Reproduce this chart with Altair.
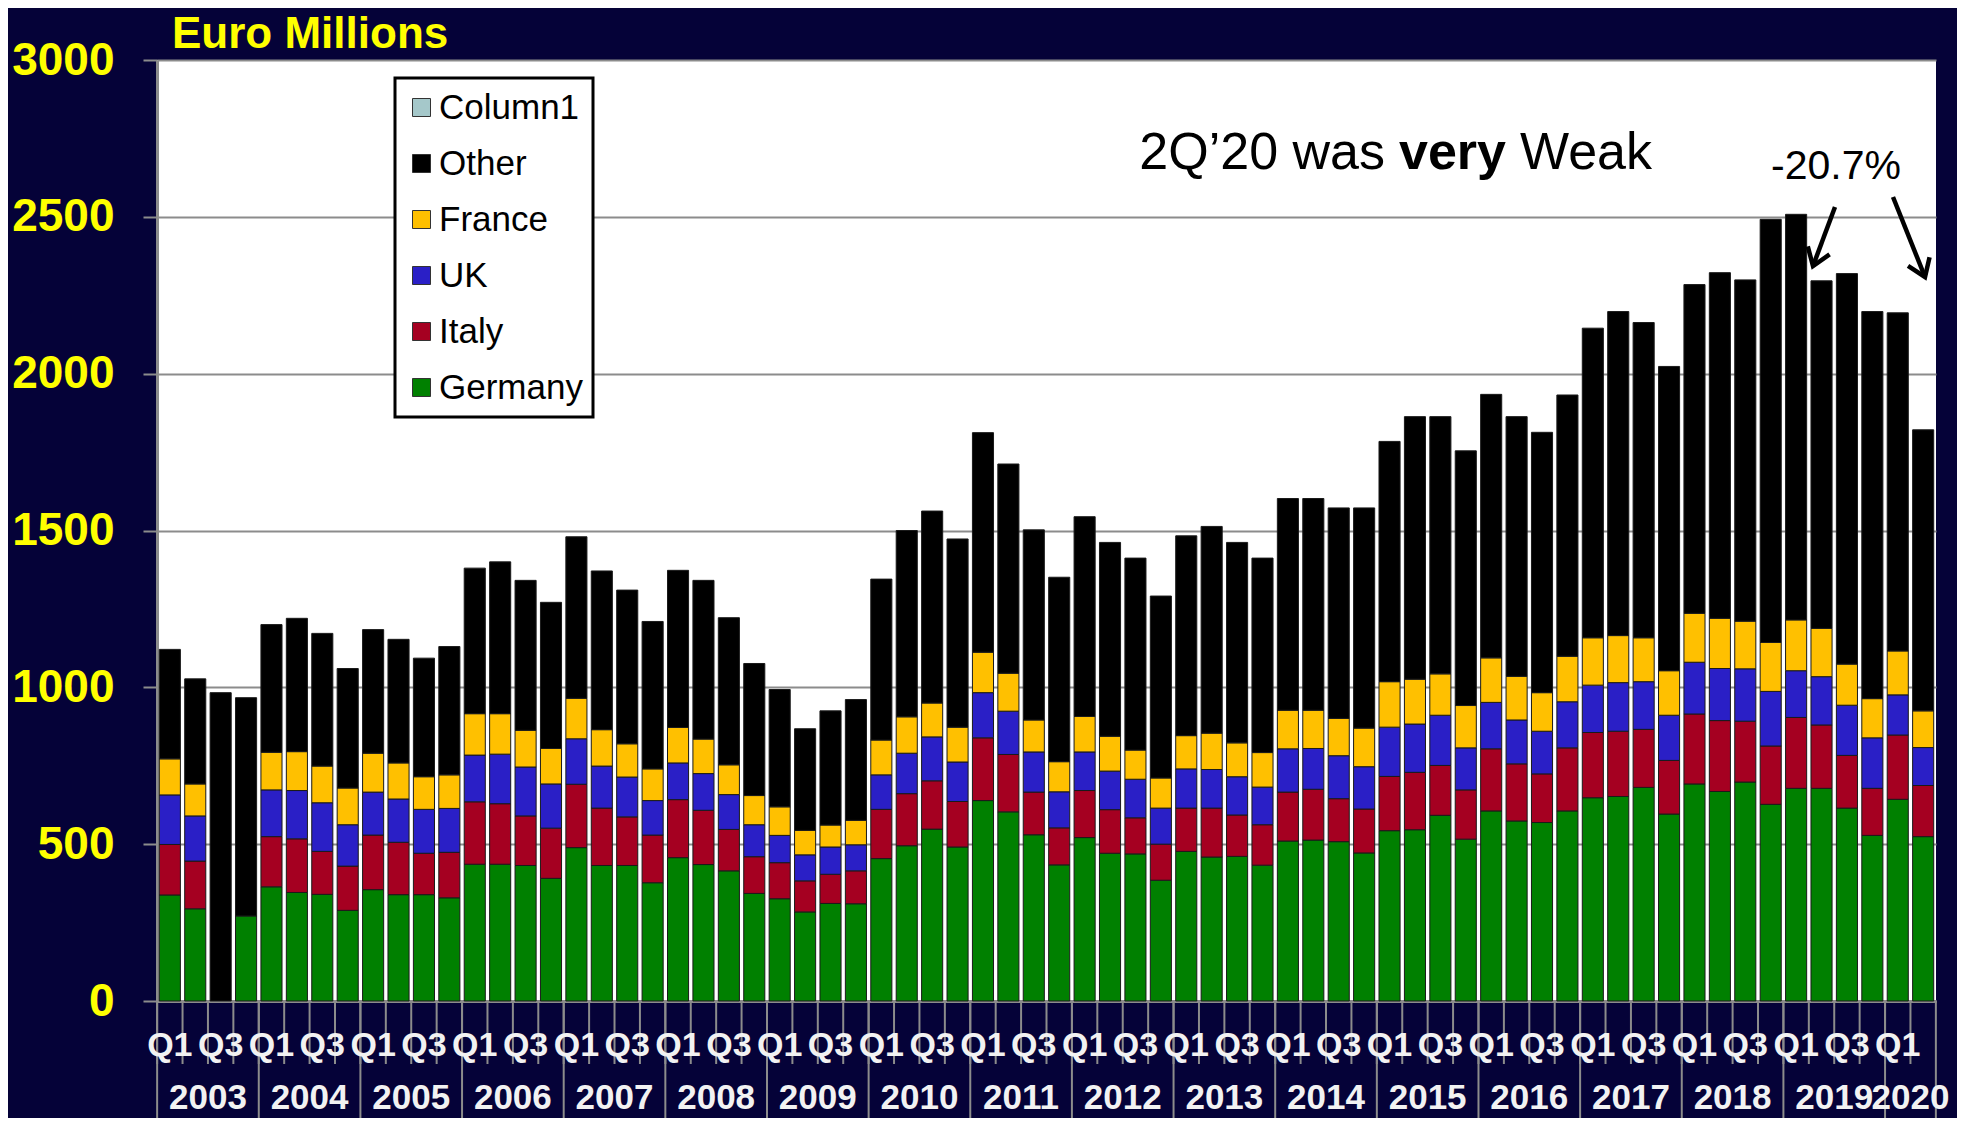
import altair as alt
import pandas as pd

# ---------------- data ----------------
years = [str(y) for y in range(2003, 2021)]
quarters = ["Q1", "Q2", "Q3", "Q4"]
periods = [f"{y} {q}" for y in years for q in quarters][:70]

germany = [338, 294, 0, 271, 364, 346, 340, 289, 355, 339, 339, 329,
           436, 436, 432, 391, 489, 432, 432, 377, 457, 435, 415, 343,
           326, 284, 311, 310, 454, 495, 548, 491, 639, 603, 530, 434,
           521, 471, 469, 385, 477, 459, 461, 433, 510, 513, 508, 472,
           543, 546, 592, 516, 606, 574, 569, 606, 648, 652, 681, 596,
           692, 668, 698, 627, 678, 678, 615, 528, 643, 524]
italy = [161, 152, 0, 0, 160, 171, 137, 141, 174, 167, 132, 145,
         199, 193, 158, 160, 202, 183, 155, 152, 185, 173, 132, 117,
         115, 99, 93, 105, 157, 166, 154, 145, 200, 183, 136, 118,
         150, 139, 115, 115, 138, 156, 132, 129, 156, 162, 137, 140,
         173, 183, 159, 157, 198, 182, 155, 201, 208, 208, 185, 171,
         223, 226, 194, 186, 226, 202, 168, 150, 205, 163]
uk = [158, 144, 0, 0, 149, 154, 155, 132, 137, 138, 140, 140,
      149, 158, 156, 141, 145, 134, 127, 110, 117, 117, 111, 102,
      87, 83, 87, 83, 110, 129, 140, 126, 144, 138, 128, 115,
      123, 123, 123, 115, 125, 123, 122, 120, 138, 130, 137, 135,
      157, 154, 160, 134, 148, 140, 136, 147, 151, 155, 152, 144,
      165, 166, 167, 174, 149, 154, 160, 161, 128, 121]
france = [115, 102, 0, 0, 120, 124, 117, 117, 124, 115, 104, 107,
          132, 129, 117, 113, 129, 116, 106, 101, 113, 110, 95, 93,
          91, 78, 70, 78, 111, 116, 108, 111, 129, 121, 102, 96,
          113, 111, 93, 96, 106, 116, 108, 110, 123, 122, 119, 123,
          145, 143, 132, 135, 142, 139, 123, 145, 151, 150, 140, 142,
          156, 160, 152, 156, 162, 154, 131, 125, 140, 117]
other = [349, 335, 983, 696, 407, 425, 423, 381, 394, 394, 378, 409,
         464, 484, 478, 466, 515, 506, 490, 470, 501, 506, 469, 421,
         374, 324, 364, 385, 513, 594, 612, 600, 700, 667, 606, 588,
         637, 618, 612, 580, 637, 659, 639, 620, 675, 675, 671, 702,
         766, 837, 820, 812, 840, 828, 830, 833, 987, 1033, 1005, 970,
         1048, 1102, 1088, 1349, 1293, 1108, 1245, 1234, 1078, 896]

stack_names = ["Germany", "Italy", "UK", "France", "Other"]
legend_order = ["Column1", "Other", "France", "UK", "Italy", "Germany"]
legend_colors = ["#A5C8CA", "#000000", "#FFC000", "#2A1FC6", "#A50021", "#008000"]
y_ticks = [0, 500, 1000, 1500, 2000, 2500, 3000]

rows = []
for i, p in enumerate(periods):
    for k, (name, vals) in enumerate(zip(stack_names, [germany, italy, uk, france, other])):
        rows.append({"period": p, "country": name, "value": vals[i], "order": k})
df = pd.DataFrame(rows)

qlab_df = pd.DataFrame([{"period": p, "label": p.split()[1]} for p in periods
                        if p.split()[1] in ("Q1", "Q3")])
year_df = pd.DataFrame([{"year": y, "anchor": (f"{y} Q3" if f"{y} Q3" in periods else f"{y} Q2")}
                        for y in years])
tick_df = pd.DataFrame({"period": periods})
yearline_df = pd.DataFrame({"period": [p for p in periods if p.endswith("Q1")]})
end_df = pd.DataFrame({"period": [periods[-1]]})

# ---------------- layout ----------------
W, H = 1779, 941
BG = "#050238"
GRID = "#8c8c8c"
SANS = "Liberation Sans, Arial, sans-serif"
HALF_GAP = 2.16

xscale = alt.Scale(domain=periods, paddingInner=0.17, paddingOuter=0.09)
xaxis = alt.Axis(labels=False, ticks=False, title=None, domainColor=GRID, domainWidth=3, grid=False)

bars = alt.Chart(df).transform_filter("datum.value > 0").mark_bar(
    stroke="#1a1a1a", strokeWidth=1
).encode(
    x=alt.X("period:N", scale=xscale, axis=xaxis, sort=periods),
    y=alt.Y("value:Q", stack="zero", scale=alt.Scale(domain=[0, 3000], nice=False),
            axis=alt.Axis(values=y_ticks, format="d", title=None, labelColor="#FFFF00",
                          labelFont=SANS, labelFontSize=46, labelFontWeight="bold",
                          labelPadding=29, tickSize=14, tickColor=GRID, tickWidth=2,
                          gridColor=GRID, gridWidth=2, domainColor=GRID, domainWidth=3)),
    color=alt.Color("country:N", scale=alt.Scale(domain=legend_order, range=legend_colors),
                    legend=alt.Legend(title=None, orient="none", legendX=247, legendY=30,
                                      padding=0, symbolType="square", symbolSize=324,
                                      symbolStrokeColor="#333333", symbolStrokeWidth=1,
                                      symbolOpacity=1, labelFont=SANS, labelFontSize=35,
                                      labelColor="black", rowPadding=20, labelOffset=0)),
    order=alt.Order("order:Q", sort="ascending"),
)

legend_box = alt.Chart(pd.DataFrame({"a": [1]})).mark_rect(
    fill="white", stroke="black", strokeWidth=3
).encode(x=alt.value(238), x2=alt.value(436), y=alt.value(18), y2=alt.value(357))

short_ticks = alt.Chart(tick_df).mark_rule(color=GRID, strokeWidth=2, xOffset=-HALF_GAP).encode(
    x=alt.X("period:N", bandPosition=0, scale=xscale, axis=xaxis),
    y=alt.value(H), y2=alt.value(H + 63))
year_lines = alt.Chart(yearline_df).mark_rule(color=GRID, strokeWidth=2, xOffset=-HALF_GAP).encode(
    x=alt.X("period:N", bandPosition=0, scale=xscale, axis=xaxis),
    y=alt.value(H), y2=alt.value(H + 117))
end_line = alt.Chart(end_df).mark_rule(color=GRID, strokeWidth=2, xOffset=HALF_GAP).encode(
    x=alt.X("period:N", bandPosition=1, scale=xscale, axis=xaxis),
    y=alt.value(H), y2=alt.value(H + 117))

q_labels = alt.Chart(qlab_df).mark_text(
    font=SANS, fontSize=34, fontWeight="bold", color="#F2F2F2", baseline="alphabetic"
).encode(x=alt.X("period:N", scale=xscale, axis=xaxis), y=alt.value(H + 55), text="label:N")

year_labels = alt.Chart(year_df).mark_text(
    font=SANS, fontSize=35, fontWeight="bold", color="#F2F2F2", baseline="alphabetic",
    xOffset=-HALF_GAP
).encode(x=alt.X("anchor:N", bandPosition=0, scale=xscale, axis=xaxis),
         y=alt.value(H + 108), text="year:N")


def label(text, x, y, size, weight="normal", color="black", align="left", font=SANS):
    return alt.Chart(pd.DataFrame({"t": [text]})).mark_text(
        align=align, baseline="alphabetic", fontSize=size, fontWeight=weight,
        color=color, font=font
    ).encode(x=alt.value(x), y=alt.value(y), text="t:N")


title = label("Euro Millions", 15, -12, 44, "bold", "#FFFF00")
ann1 = label("2Q\u201920 was", 1228, 109, 52, align="right")
ann2 = label("very", 1242, 109, 52, "bold")
ann3 = label("Weak", 1363, 109, 52)
pct = label("-20.7%", 1679, 119, 41, align="center")

one = pd.DataFrame({"a": [1]})
arrow1 = alt.Chart(one).mark_rule(color="black", strokeWidth=4.5).encode(
    x=alt.value(1678), y=alt.value(147), x2=alt.value(1656), y2=alt.value(206))
head1 = alt.Chart(one).mark_point(shape="M-0.7,-1L0,0L0.7,-1", filled=False, stroke="black",
                                  strokeWidth=4.5, size=1100, angle=20, opacity=1).encode(
    x=alt.value(1656), y=alt.value(206))
arrow2 = alt.Chart(one).mark_rule(color="black", strokeWidth=4.5).encode(
    x=alt.value(1736), y=alt.value(137), x2=alt.value(1768), y2=alt.value(217))
head2 = alt.Chart(one).mark_point(shape="M-0.7,-1L0,0L0.7,-1", filled=False, stroke="black",
                                  strokeWidth=4.5, size=1100, angle=338, opacity=1).encode(
    x=alt.value(1768), y=alt.value(217))

chart = alt.layer(
    bars, legend_box, short_ticks, year_lines, end_line, q_labels, year_labels,
    title, ann1, ann2, ann3, pct, arrow1, head1, arrow2, head2
).properties(
    width=W, height=H,
    autosize=alt.AutoSizeParams(type="none"),
    padding={"left": 149, "top": 52, "right": 21, "bottom": 117},
    background=BG,
).configure_view(stroke=None, fill="white")

chart.save("out.html", embed_options={"renderer": "svg", "actions": False})
